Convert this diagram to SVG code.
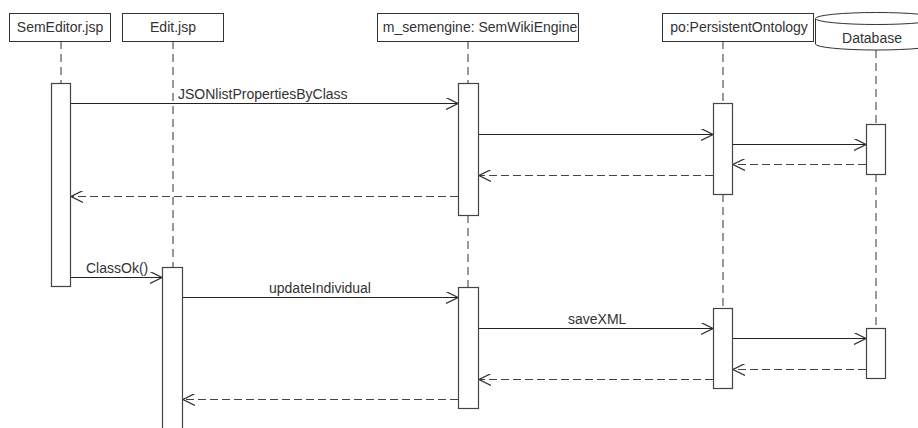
<svg xmlns="http://www.w3.org/2000/svg" width="918" height="428" viewBox="0 0 918 428">
<defs>
<style>
.box{fill:#fff;stroke:#333;stroke-width:1}
.act{fill:#fff;stroke:#444;stroke-width:1.2}
.life{stroke:#333;stroke-width:1;stroke-dasharray:8 5;fill:none}
.msg{stroke:#222;stroke-width:1.1;fill:none;marker-end:url(#arr)}
.ret{stroke:#444;stroke-width:1.1;fill:none;stroke-dasharray:8 4;marker-end:url(#arr)}
text{font-family:"Liberation Sans",Arial,sans-serif;font-size:14px;fill:#333}
.c{text-anchor:middle}
</style>
<marker id="arr" viewBox="0 0 12 12" refX="12" refY="6" markerWidth="12" markerHeight="12" markerUnits="userSpaceOnUse" orient="auto">
<path d="M0,0 L12,6 L0,12" fill="none" stroke="#333" stroke-width="1.2" stroke-dasharray="none"/>
</marker>
</defs>
<rect width="918" height="428" fill="#fff"/>

<g id="lifelines">
<line class="life" x1="61" y1="41" x2="61" y2="83"/>
<line class="life" x1="173" y1="41" x2="173" y2="267"/>
<line class="life" x1="468" y1="41" x2="468" y2="83"/>
<line class="life" x1="468" y1="215" x2="468" y2="287"/>
<line class="life" x1="723" y1="41" x2="723" y2="103"/>
<line class="life" x1="723" y1="194" x2="723" y2="308"/>
<line class="life" x1="876" y1="50" x2="876" y2="124"/>
<line class="life" x1="876" y1="174" x2="876" y2="328"/>
</g>

<g id="SemEditor">
<rect class="box" x="9.5" y="13.5" width="101" height="28"/>
<text class="c" x="60" y="32">SemEditor.jsp</text>
<rect class="act" x="51.5" y="83.5" width="19" height="203"/>
</g>

<g id="Edit">
<rect class="box" x="122.5" y="13.5" width="101" height="28"/>
<text class="c" x="173" y="32">Edit.jsp</text>
<rect class="act" x="162.5" y="267.5" width="20" height="170"/>
</g>

<g id="SemWikiEngine">
<rect class="box" x="377.5" y="13.5" width="201" height="28"/>
<text class="c" x="480" y="32">m_semengine: SemWikiEngine</text>
<rect class="act" x="458.5" y="83.5" width="20" height="132"/>
<rect class="act" x="458.5" y="287.5" width="20" height="121"/>
</g>

<g id="PersistentOntology">
<rect class="box" x="662.5" y="13.5" width="151" height="28"/>
<text class="c" x="739" y="32">po:PersistentOntology</text>
<rect class="act" x="713.5" y="103.5" width="19" height="91"/>
<rect class="act" x="713.5" y="308.5" width="19" height="80"/>
</g>

<g id="Database">
<path class="box" d="M815.5,18.5 L815.5,44 A61,6 0 0 0 937.5,44 L937.5,18.5 A61,6 0 0 0 815.5,18.5 Z"/>
<path d="M815.5,18.5 A61,6 0 0 0 937.5,18.5" fill="none" stroke="#333" stroke-width="1"/>
<text class="c" x="872" y="43">Database</text>
<rect class="act" x="866.5" y="124.5" width="19" height="50"/>
<rect class="act" x="866.5" y="328.5" width="19" height="50"/>
</g>

<g id="connectors">
<line class="msg" x1="71" y1="103.5" x2="458" y2="103.5"/>
<line class="msg" x1="479" y1="134.5" x2="713" y2="134.5"/>
<line class="msg" x1="733" y1="144.5" x2="866" y2="144.5"/>
<line class="ret" x1="866" y1="164.5" x2="733" y2="164.5"/>
<line class="ret" x1="713" y1="175.5" x2="479" y2="175.5"/>
<line class="ret" x1="458" y1="196.5" x2="71" y2="196.5"/>
<line class="msg" x1="71" y1="277.5" x2="162" y2="277.5"/>
<line class="msg" x1="183" y1="297.5" x2="458" y2="297.5"/>
<line class="msg" x1="479" y1="328.5" x2="713" y2="328.5"/>
<line class="msg" x1="733" y1="338.5" x2="866" y2="338.5"/>
<line class="ret" x1="866" y1="369.5" x2="733" y2="369.5"/>
<line class="ret" x1="713" y1="379.5" x2="479" y2="379.5"/>
<line class="ret" x1="458" y1="399.5" x2="183" y2="399.5"/>
<text x="178" y="99">JSONlistPropertiesByClass</text>
<text x="86" y="273">ClassOk()</text>
<text x="269" y="293">updateIndividual</text>
<text x="568" y="324">saveXML</text>
</g>
</svg>
